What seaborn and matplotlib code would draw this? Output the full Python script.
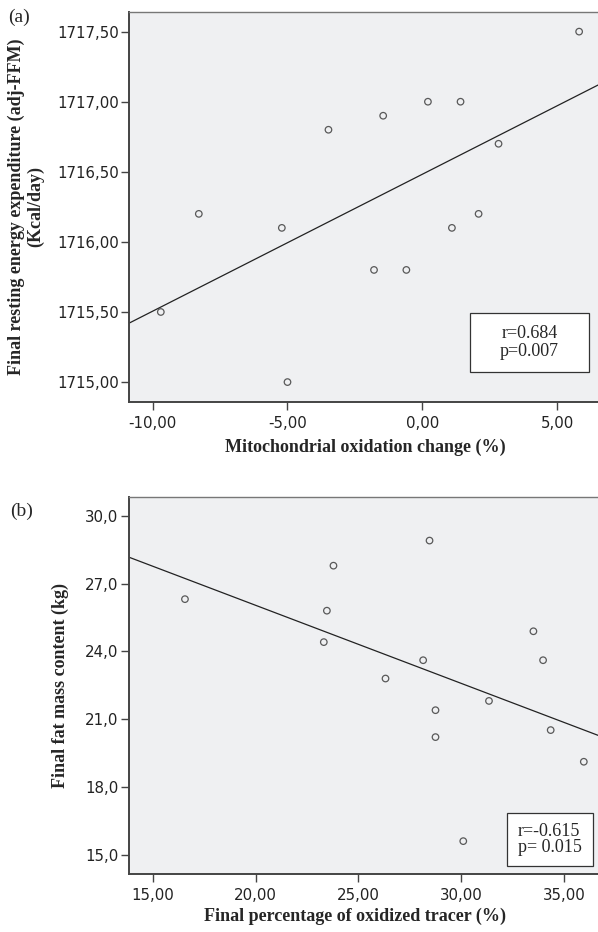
import matplotlib
matplotlib.use("Agg")
import matplotlib.pyplot as plt
import matplotlib.ticker as mticker
from matplotlib.patches import Rectangle
import seaborn as sns
import pandas as pd

# Panel (a): mitochondrial oxidation change vs final REE
mito_change = [-9.70, -8.29, -5.21, -5.00, -3.48, -1.45, 0.21, 1.42, 2.83, 5.82,
               2.09, 1.10, -1.79, -0.59]
ree_final = [1715.50, 1716.20, 1716.10, 1715.00, 1716.80, 1716.90, 1717.00, 1717.00,
             1716.70, 1717.50, 1716.20, 1716.10, 1715.80, 1715.80]

# Panel (b): oxidized tracer vs final fat mass
tracer_pct = [16.57, 28.46, 23.79, 23.47, 23.32, 28.15, 26.32, 33.51, 33.98, 28.75,
              28.75, 31.35, 34.35, 35.96, 30.10]
fat_mass = [26.31, 28.90, 27.79, 25.80, 24.41, 23.61, 22.80, 24.89, 23.61, 21.40,
            20.21, 21.81, 20.52, 19.12, 15.61]

xticks_a = [-10, -5, 0, 5]
yticks_a = [1715.0, 1715.5, 1716.0, 1716.5, 1717.0, 1717.5]
xticks_b = [15, 20, 25, 30, 35]
yticks_b = [15, 18, 21, 24, 27, 30]

df_a = pd.DataFrame({"x": mito_change, "y": ree_final})
df_b = pd.DataFrame({"x": tracer_pct, "y": fat_mass})

sns.set_style("white")
plt.rcParams["font.family"] = ["DejaVu Sans"]

BG = "#eff0f2"
SPINE = "#444444"
serif = ["Liberation Serif", "DejaVu Serif"]

W, H = 598, 932
fig = plt.figure(figsize=(W / 100, H / 100), dpi=100)
ax_a = fig.add_axes([129 / W, 1 - 401.7 / H, 469 / W, 389.7 / H])
ax_b = fig.add_axes([129 / W, 1 - 873.7 / H, 469 / W, 377 / H])


def comma_fmt(decimals):
    return mticker.FuncFormatter(lambda v, p: f"{v:.{decimals}f}".replace(".", ","))


def style_axes(ax, xlim, ylim, xticks, yticks, xdec, ydec):
    ax.set_facecolor(BG)
    ax.set_xlim(*xlim)
    ax.set_ylim(*ylim)
    ax.set_xticks(xticks)
    ax.set_yticks(yticks)
    ax.xaxis.set_major_formatter(comma_fmt(xdec))
    ax.yaxis.set_major_formatter(comma_fmt(ydec))
    ax.tick_params(axis="both", direction="out", length=6, width=1, color=SPINE,
                   labelsize=10.8, labelcolor="#222222", pad=1.5, bottom=True, left=True)
    ax.tick_params(axis="x", pad=4)
    for s in ["left", "bottom"]:
        ax.spines[s].set_color(SPINE)
        ax.spines[s].set_linewidth(1.4)
    ax.spines["top"].set_color("#777777")
    ax.spines["top"].set_linewidth(1.0)
    ax.spines["right"].set_visible(False)


def draw(ax, df):
    sns.regplot(data=df, x="x", y="y", ax=ax, ci=None, truncate=False,
                color="#333333",
                scatter_kws={"s": 22, "facecolors": "none", "edgecolors": "#333333",
                             "linewidths": 0.9},
                line_kws={"color": "#222222", "linewidth": 0.9})


def stat_box(x0, y0, x1, y1, text, tx, ha, ls):
    # box given in figure pixels
    fig.patches.append(Rectangle((x0 / W, 1 - y1 / H), (x1 - x0) / W, (y1 - y0) / H,
                                 transform=fig.transFigure, facecolor="white",
                                 edgecolor="#333333", linewidth=0.9, zorder=5))
    fig.text(tx / W, 1 - (y0 + y1) / 2 / H, text, ha=ha, va="center", family=serif,
             fontsize=13, linespacing=ls, zorder=6)


# (a)
style_axes(ax_a, (-10.88, 6.52), (1714.86, 1717.64), xticks_a, yticks_a, 2, 2)
draw(ax_a, df_a)
ax_a.set_xlim(-10.88, 6.52)
ax_a.set_xlabel("Mitochondrial oxidation change (%)", family=serif,
                fontweight="bold", fontsize=13, va="center")
ax_a.xaxis.set_label_coords((365 - 129) / 469, (401.7 - 447) / 389.7)
ax_a.set_ylabel("Final resting energy expenditure (adj-FFM)\n(Kcal/day)", family=serif,
                fontweight="bold", fontsize=13, linespacing=1.1, va="center")
ax_a.yaxis.set_label_coords((26 - 129) / 469, 0.5)
stat_box(470, 312.7, 589, 372.3, "r=0.684\np=0.007", 529.5, "center", 1.1)

# (b)
style_axes(ax_b, (13.85, 36.65), (14.17, 30.84), xticks_b, yticks_b, 2, 1)
draw(ax_b, df_b)
ax_b.set_xlim(13.85, 36.65)
ax_b.set_xlabel("Final percentage of oxidized tracer (%)", family=serif,
                fontweight="bold", fontsize=13, va="center")
ax_b.xaxis.set_label_coords((355 - 129) / 469, (873.7 - 916) / 377)
ax_b.set_ylabel("Final fat mass content (kg)", family=serif,
                fontweight="bold", fontsize=13, va="center")
ax_b.yaxis.set_label_coords((60 - 129) / 469, 0.5)
stat_box(506.7, 813.3, 593, 865.7, "r=-0.615\np= 0.015", 517.7, "left", 1.0)

fig.text(8 / W, 1 - 17 / H, "(a)", family=serif, fontsize=14, va="center", ha="left")
fig.text(10 / W, 1 - 511 / H, "(b)", family=serif, fontsize=14, va="center", ha="left")

fig.savefig("out.png", dpi=100)
